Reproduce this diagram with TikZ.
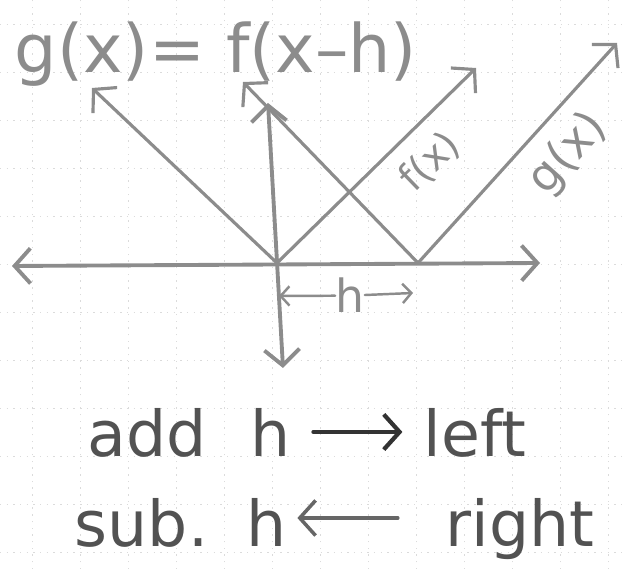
\documentclass[tikz,border=0pt]{standalone}
\usepackage{fontspec}
\setmainfont{DejaVu Sans}
\usetikzlibrary{arrows.meta}
\definecolor{pencil}{gray}{0.55}
\definecolor{lead}{gray}{0.32}
\tikzset{
  hand/.style={pencil, line width=1.8pt, line cap=round, >={Straight Barb[length=9pt,width=20pt]}},
  paper/.style={black!14, line width=0.5pt, dash pattern=on 0.8pt off 3pt},
  word/.style={lead, anchor=base, inner sep=0pt, font=\fontsize{36}{40}\selectfont},
  lbl/.style={pencil, inner sep=0pt},
}

\begin{document}
\begin{tikzpicture}
\useasboundingbox (0,0) rectangle (12.5,11.38);
% graph paper
\foreach \x in {0,...,12} \draw[paper] (0.64+0.96*\x,0) -- (0.64+0.96*\x,11.38);
\foreach \y in {0,...,11} \draw[paper] (0,10.9-0.96*\y) -- (12.5,10.9-0.96*\y);

\coordinate (O) at (5.54,6.12); %vertex of f
\coordinate (V) at (8.36,6.12); %vertex of g
\coordinate (xL) at (0.24,6.06);
\coordinate (xR) at (10.8,6.12);
\coordinate (yT) at (5.36,9.32);
\coordinate (yB) at (5.66,4.02);
\coordinate (fL) at (1.84,9.62);
\coordinate (fR) at (9.52,10.02);
\coordinate (gL) at (4.86,9.74);
\coordinate (gR) at (12.34,10.52);

\draw[hand, line width=2.2pt, <->] (xL) -- (xR); %x axis
\draw[hand, line width=2.2pt, <->] (yB) -- (yT); %y axis
\draw[hand, ->] (O) -- (fL);
\draw[hand, ->] (O) -- (fR);
\draw[hand, ->] (V) -- (gL);
\draw[hand, ->] (V) -- (gR);

\node[lbl, anchor=base, font=\fontsize{38}{44}\selectfont] (title) at (4.32,9.92) {g(x)= f(x–h)};
\node[lbl, rotate=44, font=\fontsize{22}{26}\selectfont] (flab) at (8.6,8.14) {f(x)};
\node[lbl, rotate=48, font=\fontsize{26}{30}\selectfont] (glab) at (11.36,8.3) {g(x)};

% shift h
\node[lbl, anchor=base, font=\fontsize{26}{30}\selectfont] (hlab) at (7.0,5.12) {h};
\coordinate (hL) at (5.58,5.46);
\coordinate (hR) at (8.26,5.52);
\draw[hand, line width=1.4pt, >={Straight Barb[length=5pt,width=11pt]}, ->] (hlab) -- (hL);
\draw[hand, line width=1.4pt, >={Straight Barb[length=5pt,width=11pt]}, ->] (hlab) -- (hR);

% rules
\node[word] (add) at (2.95,2.24) {add};
\node[word] (h1) at (5.42,2.24) {h};
\node[word] (left) at (9.5,2.24) {left};
\draw[hand, black!80, line width=2.4pt, shorten <=0.44cm, shorten >=0.42cm, ->] ([yshift=0.5cm]h1.base east) -- ([yshift=0.5cm]left.base west);

\node[word] (sub) at (2.83,0.44) {sub.};
\node[word] (h2) at (5.34,0.44) {h};
\node[word] (right) at (10.4,0.44) {right};
\draw[hand, black!60, line width=2pt, shorten <=0.95cm, shorten >=0.2cm, ->] ([yshift=0.58cm]right.base west) -- ([yshift=0.58cm]h2.base east);
\end{tikzpicture}
\end{document}
